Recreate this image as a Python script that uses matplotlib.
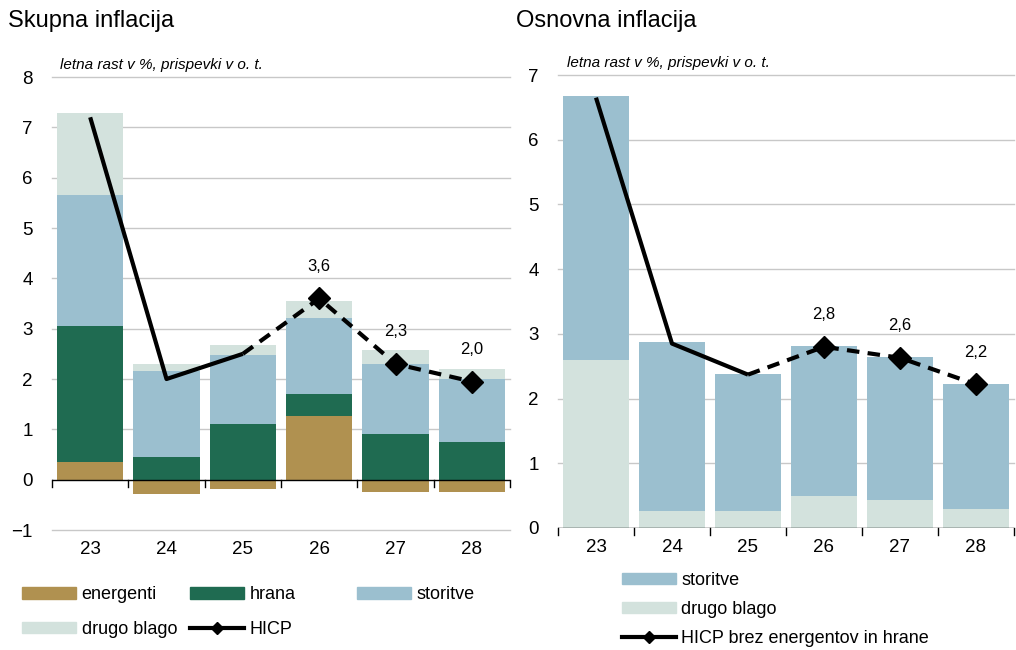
import numpy as np
import matplotlib.pyplot as plt
from matplotlib.lines import Line2D
from matplotlib.patches import Patch

plt.rcParams['font.family'] = ['Liberation Sans', 'DejaVu Sans']

# --- data ---
years = ['23', '24', '25', '26', '27', '28']

# Skupna inflacija (contributions, p.p.)
energy = [0.35, -0.28, -0.18, 1.26, -0.25, -0.25]
food = [2.70, 0.45, 1.10, 0.44, 0.90, 0.75]
services = [2.60, 1.70, 1.38, 1.52, 1.40, 1.25]
other_goods = [1.63, 0.15, 0.19, 0.33, 0.28, 0.20]
hicp = [7.2, 2.0, 2.5, 3.6, 2.3, 1.95]
hicp_labels = ['', '', '', '3,6', '2,3', '2,0']

# Osnovna inflacija
core_other = [2.60, 0.27, 0.27, 0.50, 0.43, 0.30]
core_services = [4.07, 2.60, 2.11, 2.32, 2.21, 1.92]
core_hicp = [6.65, 2.85, 2.37, 2.80, 2.63, 2.22]
core_labels = ['', '', '', '2,8', '2,6', '2,2']

c_energy = '#B09150'
c_food = '#1F6B51'
c_serv = '#9BBFCF'
c_other = '#D3E2DD'

fig = plt.figure(figsize=(10.16, 6.5), dpi=100)
ax1 = fig.add_axes([0.0512, 0.1846, 0.4508, 0.6969])
ax2 = fig.add_axes([0.5492, 0.1877, 0.4488, 0.6969])

x = np.arange(len(years))
w = 0.87


def style_axis(ax, ylim, yticks):
    ax.set_xlim(-0.5, len(years) - 0.5)
    ax.set_ylim(*ylim)
    ax.set_yticks(yticks)
    ax.set_yticklabels(['\u2212' + str(-t) if t < 0 else str(t) for t in yticks])
    for s in ['top', 'right', 'left', 'bottom']:
        ax.spines[s].set_visible(False)
    for t in yticks:
        if t != 0:
            ax.axhline(t, color='#C8C8C8', lw=1, zorder=0, clip_on=False)
    ax.axhline(0, color='black', lw=1, zorder=4)
    # category boundary ticks on zero line (about 7 px long)
    tick_len = 7 * (ylim[1] - ylim[0]) / 453
    for b in np.arange(-0.5, len(years), 1.0):
        ax.plot([b, b], [0, -tick_len], color='black', lw=1,
                zorder=4, clip_on=False)
    ax.tick_params(axis='y', length=0, labelsize=13.5, pad=14)
    ax.tick_params(axis='x', length=0, labelsize=13.5, pad=8)
    ax.set_xticks(x)
    ax.set_xticklabels(years)


def draw_line(ax, vals, labels):
    ax.plot(x[:3], vals[:3], color='black', lw=3, zorder=5, solid_capstyle='butt')
    ax.plot(x[2:], vals[2:], color='black', lw=3, ls=(0, (3, 2)), zorder=5)
    ax.plot(x[3:], vals[3:], ls='none', marker='D', ms=11, color='black', zorder=6)
    for xi, v, lab in zip(x, vals, labels):
        if lab:
            ax.annotate(lab, (xi, v), xytext=(0, 23), textcoords='offset points',
                        ha='center', va='center', fontsize=12)


# --- left panel ---
e = np.array(energy)
pos_base = np.where(e > 0, e, 0)
ax1.bar(x, energy, w, color=c_energy, zorder=2)
ax1.bar(x, food, w, bottom=pos_base, color=c_food, zorder=2)
b2 = pos_base + np.array(food)
ax1.bar(x, services, w, bottom=b2, color=c_serv, zorder=2)
b3 = b2 + np.array(services)
ax1.bar(x, other_goods, w, bottom=b3, color=c_other, zorder=2)
style_axis(ax1, (-1, 8), list(range(-1, 9)))
draw_line(ax1, hicp, hicp_labels)

# --- right panel ---
ax2.bar(x, core_other, w, color=c_other, zorder=2)
ax2.bar(x, core_services, w, bottom=core_other, color=c_serv, zorder=2)
style_axis(ax2, (0, 7), list(range(0, 8)))
draw_line(ax2, core_hicp, core_labels)

# --- titles ---
fig.text(0.008, 0.968, 'Skupna inflacija', fontsize=17, va='center', ha='left')
fig.text(0.508, 0.968, 'Osnovna inflacija', fontsize=17, va='center', ha='left')
fig.text(0.059, 0.9, 'letna rast v %, prispevki v o. t.', fontsize=11,
         style='italic', va='center', ha='left')
fig.text(0.558, 0.903, 'letna rast v %, prispevki v o. t.', fontsize=11,
         style='italic', va='center', ha='left')

# --- legends ---
hl = Line2D([], [], color='black', lw=3, marker='D', ms=6)
leg_kw = dict(loc='upper left', frameon=False, fontsize=13, handlelength=3.0,
              handleheight=0.58, handletextpad=0.3, borderaxespad=0, borderpad=0)

left_cols = [
    ([Patch(color=c_energy), Patch(color=c_other)], ['energenti', 'drugo blago'], 0.0217),
    ([Patch(color=c_food), hl], ['hrana', 'HICP'], 0.187),
    ([Patch(color=c_serv)], ['storitve'], 0.351),
]
for handles, labels, xa in left_cols:
    fig.legend(handles, labels, bbox_to_anchor=(xa, 0.098), labelspacing=0.98, **leg_kw)

right_handles = [Patch(color=c_serv), Patch(color=c_other), hl]
right_labels = ['storitve', 'drugo blago', 'HICP brez energentov in hrane']
fig.legend(right_handles, right_labels, bbox_to_anchor=(0.612, 0.12),
           labelspacing=0.66, **leg_kw)

plt.savefig('out.png', dpi=100)
